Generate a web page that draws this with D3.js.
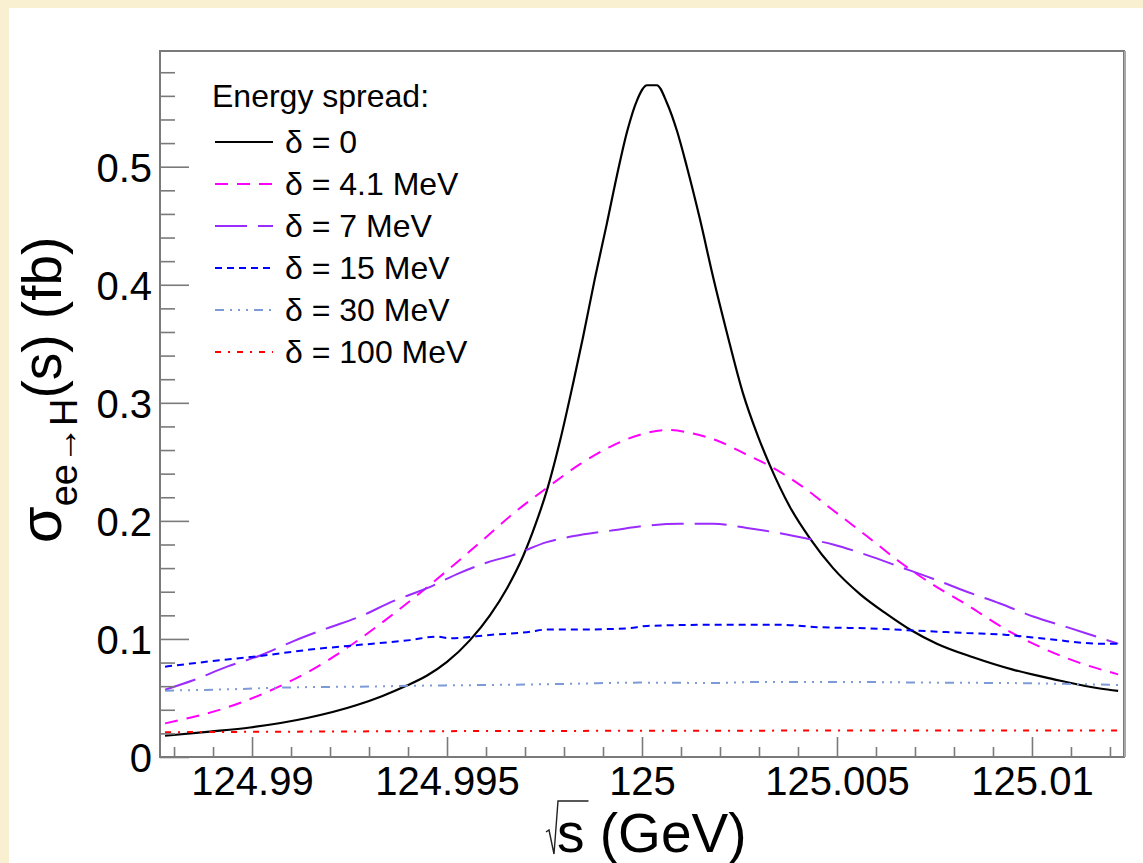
<!DOCTYPE html>
<html>
<head>
<meta charset="utf-8">
<script src="https://cdn.jsdelivr.net/npm/d3@7"></script>
<style>
  html, body { margin: 0; padding: 0; background: #f8f0d0; }
  svg { display: block; }
  text { font-family: "Liberation Sans", Arial, Helvetica, sans-serif; fill: #000; }
</style>
</head>
<body>
<svg id="chart" width="1143" height="863"></svg>
<script>
// ---- axis ranges and tick labels ----
const xDomain = [124.98764, 125.01236];   // sqrt(s) in GeV
const yDomain = [0, 0.598];               // cross section in fb
const xMajorTicks = [124.99, 124.995, 125, 125.005, 125.01];
const xTickLabels = ["124.99", "124.995", "125", "125.005", "125.01"];
const yMajorTicks = [0, 0.1, 0.2, 0.3, 0.4, 0.5];
const yTickLabels = ["0", "0.1", "0.2", "0.3", "0.4", "0.5"];

// ---- series: sqrt(s) [GeV] and sigma(ee -> H) [fb] ----
const sqrtS_d0 = [124.98777,124.98892,124.98995,124.99141,124.99269,124.99333,124.99397,124.99449,124.99500,124.99559,124.99610,124.99654,124.99695,124.99728,124.99759,124.99790,124.99823,124.99849,124.99879,124.99910,124.99936,124.99962,124.99987,125.00013,125.00038,125.00064,125.00090,125.00115,125.00149,125.00182,125.00218,125.00259,125.00297,125.00328,125.00379,125.00431,125.00490,125.00559,125.00628,125.00687,125.00756,125.00849,125.00951,125.01054,125.01174,125.01221];
const sigma_d0  = [0.018,0.0215,0.025,0.033,0.044,0.0515,0.0605,0.069,0.0805,0.099,0.120,0.143,0.170,0.198,0.229,0.268,0.316,0.356,0.405,0.452,0.493,0.530,0.556,0.569,0.569,0.554,0.530,0.500,0.455,0.407,0.359,0.308,0.272,0.247,0.212,0.185,0.160,0.138,0.121,0.108,0.096,0.0845,0.074,0.066,0.058,0.056];

const sqrtS_d4 = [124.98777,124.98936,124.99038,124.99149,124.99244,124.99346,124.99431,124.99515,124.99603,124.99669,124.99756,124.99841,124.99926,124.99995,125.00064,125.00131,125.00200,125.00269,125.00336,125.00405,125.00490,125.00577,125.00662,125.00746,125.00833,125.00918,125.01003,125.01090,125.01221];
const sigma_d4  = [0.0285,0.042,0.055,0.073,0.0925,0.117,0.139,0.162,0.187,0.206,0.228,0.248,0.264,0.273,0.277,0.274,0.267,0.256,0.245,0.2305,0.209,0.187,0.165,0.146,0.129,0.111,0.096,0.0836,0.070];

const sqrtS_d7 = [124.98777,124.98849,124.98936,124.99021,124.99105,124.99192,124.99277,124.99362,124.99449,124.99533,124.99605,124.99669,124.99756,124.99841,124.99926,125.00013,125.00097,125.00182,125.00269,125.00354,125.00431,125.00490,125.00577,125.00662,125.00746,125.00833,125.00918,125.01003,125.01090,125.01174,125.01221];
const sigma_d7  = [0.057,0.065,0.0765,0.086,0.098,0.109,0.119,0.132,0.143,0.156,0.165,0.171,0.182,0.188,0.192,0.196,0.1975,0.1975,0.194,0.1895,0.1844,0.180,0.171,0.161,0.151,0.140,0.130,0.119,0.110,0.101,0.096];

const sqrtS_d15 = [124.98777,124.98892,124.99021,124.99149,124.99277,124.99405,124.99474,124.99508,124.99610,124.99713,124.99756,124.99841,124.99962,125.00013,125.00182,125.00354,125.00449,125.00577,125.00705,125.00833,125.00936,125.01046,125.01174,125.01221];
const sigma_d15  = [0.0765,0.081,0.0856,0.091,0.095,0.099,0.102,0.1006,0.1034,0.106,0.108,0.108,0.109,0.111,0.112,0.112,0.110,0.109,0.107,0.105,0.1034,0.0997,0.096,0.096];

const sqrtS_d30 = [124.98777,124.98936,124.99105,124.99277,124.99449,124.99610,124.99797,124.99995,125.00182,125.00310,125.00490,125.00746,125.01003,125.01221];
const sigma_d30  = [0.0562,0.0573,0.059,0.0596,0.0605,0.061,0.0619,0.063,0.0627,0.0636,0.0636,0.063,0.0624,0.061];

const sqrtS_d100 = [124.98777,124.99379,125.00000,125.00662,125.01221];
const sigma_d100  = [0.021,0.0218,0.0222,0.0224,0.0224];

const seriesNames  = ["\u03b4 = 0", "\u03b4 = 4.1 MeV", "\u03b4 = 7 MeV", "\u03b4 = 15 MeV", "\u03b4 = 30 MeV", "\u03b4 = 100 MeV"];
const seriesColors = ["#000000", "#ff00ff", "#9a2cff", "#0000ff", "#7d9ad6", "#ff0000"];
const seriesDashes = [null, "13,9", "32,11", "7,5", "9,6,2,6,2,6,2,6", "6,7,2,7"];
const seriesX = [sqrtS_d0, sqrtS_d4, sqrtS_d7, sqrtS_d15, sqrtS_d30, sqrtS_d100];
const seriesY = [sigma_d0, sigma_d4, sigma_d7, sigma_d15, sigma_d30, sigma_d100];

// ---- layout ----
const W = 1143, H = 863;
const frame = { left: 160, top: 51, right: 1124, bottom: 757 };

const svg = d3.select("#chart");

// white pad
svg.append("rect").attr("x", 9).attr("y", 8).attr("width", W - 9).attr("height", H - 8).attr("fill", "#ffffff");

const x = d3.scaleLinear().domain(xDomain).range([frame.left, frame.right]);
const y = d3.scaleLinear().domain(yDomain).range([frame.bottom, frame.top]);

// clip for curves
svg.append("clipPath").attr("id", "plotClip")
  .append("rect").attr("x", frame.left).attr("y", frame.top)
  .attr("width", frame.right - frame.left).attr("height", frame.bottom - frame.top);

// curves
const line = d3.line().x(d => x(d[0])).y(d => y(d[1])).curve(d3.curveMonotoneX);
const curves = svg.append("g").attr("clip-path", "url(#plotClip)");
seriesNames.forEach((name, i) => {
  const pts = seriesX[i].map((v, k) => [v, seriesY[i][k]]);
  curves.append("path")
    .attr("d", line(pts))
    .attr("fill", "none")
    .attr("stroke", seriesColors[i])
    .attr("stroke-width", i === 0 ? 2.2 : 2)
    .attr("stroke-dasharray", seriesDashes[i])
    .attr("stroke-linejoin", "round");
});

// frame
const axisColor = "#7a7a7a";
svg.append("rect")
  .attr("x", frame.left).attr("y", frame.top)
  .attr("width", frame.right - frame.left).attr("height", frame.bottom - frame.top)
  .attr("fill", "none").attr("stroke", axisColor).attr("stroke-width", 2);
svg.append("line")
  .attr("x1", frame.right + 1).attr("x2", frame.right + 1)
  .attr("y1", frame.top).attr("y2", frame.bottom)
  .attr("stroke", "#a8a8a8").attr("stroke-width", 2);

// x axis: major ticks with labels, minor ticks
const xMinor = d3.range(124.988, 125.0125, 0.001).map(v => +v.toFixed(3))
  .filter(v => !xMajorTicks.some(m => Math.abs(m - v) < 1e-6));
const xAxisMajor = d3.axisBottom(x).tickValues(xMajorTicks).tickSize(-20).tickPadding(10)
  .tickFormat((d, i) => xTickLabels[i]);
const xAxisMinor = d3.axisBottom(x).tickValues(xMinor).tickSize(-10).tickFormat("");
const gx = svg.append("g").attr("transform", `translate(0,${frame.bottom})`);
gx.call(xAxisMajor);
gx.append("g").call(xAxisMinor);
gx.selectAll(".domain").remove();
gx.selectAll("line").attr("stroke", axisColor).attr("stroke-width", 1.6);
gx.selectAll("text").attr("font-size", 40).attr("fill", "#000")
  .style("font-family", "'Liberation Sans', Arial, sans-serif");

// y axis
const yMinor = d3.range(0.02, 0.59, 0.02).map(v => +v.toFixed(2))
  .filter(v => !yMajorTicks.some(m => Math.abs(m - v) < 1e-6));
const yAxisMajor = d3.axisLeft(y).tickValues(yMajorTicks).tickSize(-29).tickPadding(8)
  .tickFormat((d, i) => yTickLabels[i]);
const yAxisMinor = d3.axisLeft(y).tickValues(yMinor).tickSize(-15).tickFormat("");
const gy = svg.append("g").attr("transform", `translate(${frame.left},0)`);
gy.call(yAxisMajor);
gy.append("g").call(yAxisMinor);
gy.selectAll(".domain").remove();
gy.selectAll("line").attr("stroke", axisColor).attr("stroke-width", 1.6);
gy.selectAll("text").attr("font-size", 40).attr("fill", "#000").attr("dy", "0.36em")
  .style("font-family", "'Liberation Sans', Arial, sans-serif");

// y title: sigma_{ee->H}(s) (fb)
const yTitle = svg.append("text")
  .attr("transform", "translate(61,390) rotate(-90)")
  .attr("text-anchor", "middle")
  .attr("font-size", 55);
yTitle.append("tspan").attr("font-size", 60).text("\u03c3");
yTitle.append("tspan").attr("font-size", 38).attr("dy", 16).text("ee\u2192H");
yTitle.append("tspan").attr("dy", -16).text("(s) (fb)");

// x title: sqrt(s) (GeV)
const xTitleX = 557, xTitleBase = 852;
const xTitle = svg.append("text")
  .attr("x", xTitleX).attr("y", xTitleBase)
  .attr("font-size", 55)
  .text("s (GeV)");
const sWidth = xTitle.node().getSubStringLength(0, 1);
svg.append("path")
  .attr("d", `M${xTitleX - 11},${xTitleBase - 20} L${xTitleX - 8},${xTitleBase - 22} L${xTitleX - 3},${xTitleBase + 2} L${xTitleX + 1},${xTitleBase - 51} L${xTitleX + sWidth + 4},${xTitleBase - 51}`)
  .attr("fill", "none").attr("stroke", "#222").attr("stroke-width", 1.4);

// legend
const legend = svg.append("g");
legend.append("text").attr("x", 212).attr("y", 107).attr("font-size", 32).text("Energy spread:");
const rowY = d3.scaleLinear().domain([0, 1]).range([142, 184]);
seriesNames.forEach((name, i) => {
  const cy = rowY(i);
  legend.append("line")
    .attr("x1", 215).attr("x2", 273).attr("y1", cy).attr("y2", cy)
    .attr("stroke", seriesColors[i]).attr("stroke-width", 2)
    .attr("stroke-dasharray", seriesDashes[i]);
  legend.append("text").attr("x", 285).attr("y", cy + 11).attr("font-size", 32).text(name);
});
</script>
</body>
</html>
